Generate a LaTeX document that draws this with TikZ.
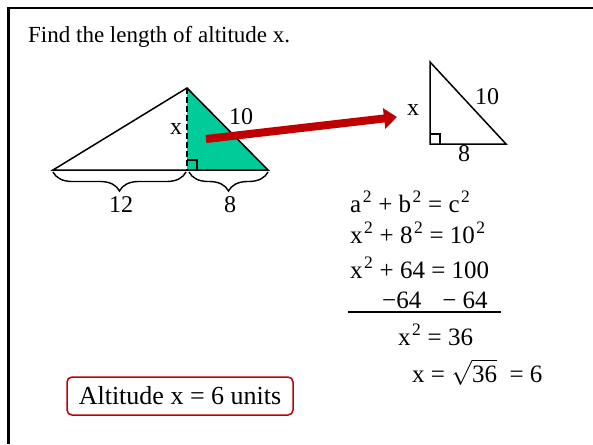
\documentclass[tikz,border=0pt]{standalone}
\usepackage{fontspec}
\setmainfont{Liberation Serif}
\usepackage{amsmath}
\usepackage{tikz}
\usetikzlibrary{arrows.meta,decorations.pathreplacing}
\definecolor{green}{HTML}{00CC99}
\definecolor{red}{HTML}{C00000}
\newcommand{\sqr}[1]{\kern1.5pt\textsuperscript{#1}}

\begin{document}
\begin{tikzpicture}[x=1pt, y=-1pt,
    lbl/.style={inner sep=0pt, font=\fontsize{24}{28}\selectfont},
    eqn/.style={inner sep=0pt, anchor=base west, font=\fontsize{25}{29}\selectfont},
    side/.style={line width=1.5pt, line join=miter},
    brc/.style={line width=1.4pt, decorate, decoration={brace, mirror, amplitude=19pt}}]
    \useasboundingbox (0,0) rectangle (593,444);
    \draw[line width=2.6pt] (8.5,444) -- (8.5,8) -- (593,8);
    \node[anchor=base west, inner sep=0pt, font=\fontsize{23}{27}\selectfont] at(28,43)(title){Find the length of altitude x.};
    % big triangle
    \coordinate (a1) at (53,170);
    \coordinate (b1) at (187,88);
    \coordinate (c1) at (268,170);
    \coordinate (d1) at (187,170);
    \fill[green] (b1) -- (d1) -- (c1) -- cycle;
    \draw[side] (a1) -- (b1) -- (c1) -- cycle;
    \draw[side, dash pattern=on 6pt off 3pt] (b1) -- (d1);
    \draw[line width=1.2pt] (d1) ++(0,-10) -- ++(10,0) -- ++(0,10);
    \node[lbl] at(176,129)(x1){x};
    \node[lbl] at(241,117)(h1){10};
    \draw[brc] (53,172) -- (186,172);
    \draw[brc] (189,172) -- (268,172);
    \node[lbl] at(121,205)(l12){12};
    \node[lbl] at(230,205)(l8){8};
    % arrow
    \coordinate (tail) at (206,139);
    \coordinate (head) at (397,117);
    \draw[red, line width=8pt, -{Triangle[length=13pt, width=20pt]}] (tail) -- (head);
    % small triangle
    \coordinate (a2) at (430,62);
    \coordinate (b2) at (430,144);
    \coordinate (c2) at (506,144);
    \draw[side] (a2) -- (b2) -- (c2) -- cycle;
    \draw[line width=1.2pt] (b2) ++(0,-10) -- ++(10,0) -- ++(0,10);
    \node[lbl] at(413,110)(x2){x};
    \node[lbl] at(487,97)(h2){10};
    \node[lbl] at(464,154)(b8){8};
    % equations
    \node[eqn] at(350,212)(eq1){a\sqr{2} + b\sqr{2} = c\sqr{2}};
    \node[eqn] at(350,243)(eq2){x\sqr{2} + 8\sqr{2} = 10\sqr{2}};
    \node[eqn] at(350,278)(eq3){x\sqr{2} + 64 = 100};
    \node[eqn] at(382,308)(eq4){−64\hspace{21pt}− 64};
    \draw[line width=1.5pt] (348,312) -- (501,312);
    \node[eqn] at(398,345)(eq5){x\sqr{2} = 36};
    \node[eqn] at(412,382)(eq6){x = $\sqrt{\text{36}}$\ \ = 6};
    % answer
    \node[draw=red, line width=1.5pt, rounded corners=5pt, minimum width=226pt, minimum height=38pt, inner sep=0pt, font=\fontsize{26}{30}\selectfont] at(180,396)(ans){Altitude x = 6 units};
\end{tikzpicture}
\end{document}
